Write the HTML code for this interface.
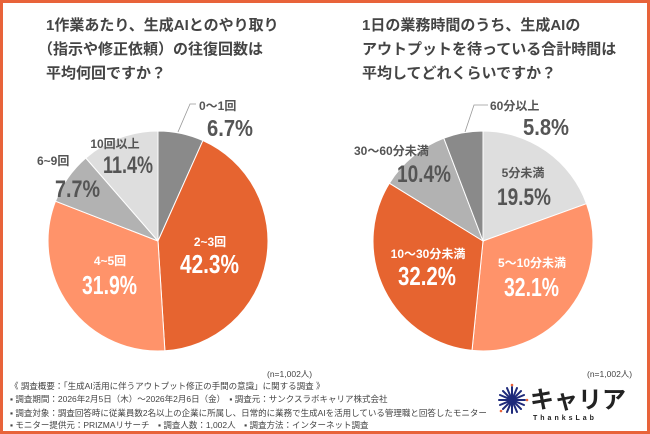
<!DOCTYPE html>
<html><head><meta charset="utf-8"><style>
html,body{margin:0;padding:0;background:#fff}
svg{display:block}
text{font-family:"Liberation Sans","Noto Sans CJK JP",sans-serif}
</style></head><body>
<svg width="650" height="434" viewBox="0 0 650 434" xmlns="http://www.w3.org/2000/svg">
<rect x="1.5" y="1.5" width="647" height="431" fill="#fff" stroke="#E8633A" stroke-width="3"/>
<g font-size="15" font-weight="bold" fill="#444">
<text x="46" y="30">1作業あたり、生成AIとのやり取り</text>
<text x="38" y="54">（指示や修正依頼）の往復回数は</text>
<text x="46" y="78">平均何回ですか？</text>
<text x="362" y="30">1日の業務時間のうち、生成AIの</text>
<text x="362" y="54">アウトプットを待っている合計時間は</text>
<text x="362" y="78">平均してどれくらいですか？</text>
</g>
<g stroke="#fff" stroke-width="1">
<path d="M158,241 L158,131 A110,110 0 0 1 202.9,140.6 Z" fill="#8A8A8A"/>
<path d="M158,241 L202.9,140.6 A110,110 0 0 1 164.9,350.8 Z" fill="#E66430"/>
<path d="M158,241 L164.9,350.8 A110,110 0 0 1 55.5,201.2 Z" fill="#FF936A"/>
<path d="M158,241 L55.5,201.2 A110,110 0 0 1 85.8,158.0 Z" fill="#B2B2B2"/>
<path d="M158,241 L85.8,158.0 A110,110 0 0 1 158,131 Z" fill="#DEDEDE"/>
<path d="M483,241 L483,131 A110,110 0 0 1 586.5,203.7 Z" fill="#DEDEDE"/>
<path d="M483,241 L586.5,203.7 A110,110 0 0 1 472.0,350.4 Z" fill="#FF936A"/>
<path d="M483,241 L472.0,350.4 A110,110 0 0 1 389.4,183.2 Z" fill="#E66430"/>
<path d="M483,241 L389.4,183.2 A110,110 0 0 1 443.8,138.2 Z" fill="#B2B2B2"/>
<path d="M483,241 L443.8,138.2 A110,110 0 0 1 483,131 Z" fill="#8A8A8A"/>
</g>
<g stroke="#999" stroke-width="0.8" fill="none">
<polyline points="196,104 190,104 178,132"/>
<polyline points="488,105 474,105 465,132"/>
</g>
<g font-weight="bold" fill="#555" lengthAdjust="spacingAndGlyphs">
<text x="199" y="110" font-size="12">0〜1回</text>
<text x="207" y="136" font-size="23" textLength="46" lengthAdjust="spacingAndGlyphs">6.7%</text>
<text x="115" y="148" font-size="12" text-anchor="middle">10回以上</text>
<text x="103" y="173" font-size="24" textLength="50" lengthAdjust="spacingAndGlyphs">11.4%</text>
<text x="37" y="165" font-size="12">6~9回</text>
<text x="55" y="197" font-size="24" textLength="45" lengthAdjust="spacingAndGlyphs">7.7%</text>
<text x="490" y="110" font-size="12">60分以上</text>
<text x="523" y="135" font-size="23" textLength="46" lengthAdjust="spacingAndGlyphs">5.8%</text>
<text x="354" y="155" font-size="12">30〜60分未満</text>
<text x="397" y="182" font-size="24" textLength="54" lengthAdjust="spacingAndGlyphs">10.4%</text>
<text x="523" y="177" font-size="12" text-anchor="middle">5分未満</text>
<text x="497" y="205" font-size="24" textLength="54" lengthAdjust="spacingAndGlyphs">19.5%</text>
</g>
<g font-weight="bold" fill="#fff" text-anchor="middle">
<text x="210" y="246" font-size="12">2~3回</text>
<text x="110" y="265" font-size="12">4~5回</text>
<text x="428" y="258" font-size="12">10〜30分未満</text>
<text x="532" y="267" font-size="12">5〜10分未満</text>
</g>
<g font-weight="bold" fill="#fff" font-size="26">
<text x="180" y="273" textLength="59" lengthAdjust="spacingAndGlyphs">42.3%</text>
<text x="82" y="294" textLength="55" lengthAdjust="spacingAndGlyphs">31.9%</text>
<text x="398" y="285" textLength="58" lengthAdjust="spacingAndGlyphs">32.2%</text>
<text x="504" y="296" textLength="55" lengthAdjust="spacingAndGlyphs">32.1%</text>
</g>
<g font-size="8.5" fill="#444">
<text x="267" y="377">(n=1,002人)</text>
<text x="587" y="377">(n=1,002人)</text>
<text x="10" y="389">《 調査概要：「生成AI活用に伴うアウトプット修正の手間の意識」に関する調査 》</text>
<text x="10" y="402">▪ 調査期間：2026年2月5日（木）〜2026年2月6日（金）　▪ 調査元：サンクスラボキャリア株式会社</text>
<text x="10" y="416">▪ 調査対象：調査回答時に従業員数2名以上の企業に所属し、日常的に業務で生成AIを活用している管理職と回答したモニター</text>
<text x="10" y="428">▪ モニター提供元：PRIZMAリサーチ　▪ 調査人数：1,002人　▪ 調査方法：インターネット調査</text>
</g>
<g transform="translate(512,400)" stroke="#1E2A7A" stroke-width="2" stroke-linecap="round">
<line x1="0" y1="-13" x2="0" y2="13"/><line x1="-13" y1="0" x2="13" y2="0"/>
<line x1="-9" y1="-9" x2="9" y2="9"/><line x1="-9" y1="9" x2="9" y2="-9"/>
<line x1="-5" y1="-12" x2="5" y2="12"/><line x1="5" y1="-12" x2="-5" y2="12"/>
<line x1="-12" y1="-5" x2="12" y2="5"/><line x1="-12" y1="5" x2="12" y2="-5"/>
<circle cx="0" cy="-15" r="1.3" fill="#E8633A" stroke="none"/>
<circle cx="15" cy="0" r="1.3" fill="#E8633A" stroke="none"/>
<circle cx="-11" cy="11" r="1.3" fill="#E8633A" stroke="none"/>
</g>
<text x="530" y="408" font-size="24" font-weight="bold" fill="#222">キャリア</text>
<text x="533" y="420" font-size="7" font-weight="bold" fill="#222" letter-spacing="3">ThanksLab</text>
</svg>
</body></html>
